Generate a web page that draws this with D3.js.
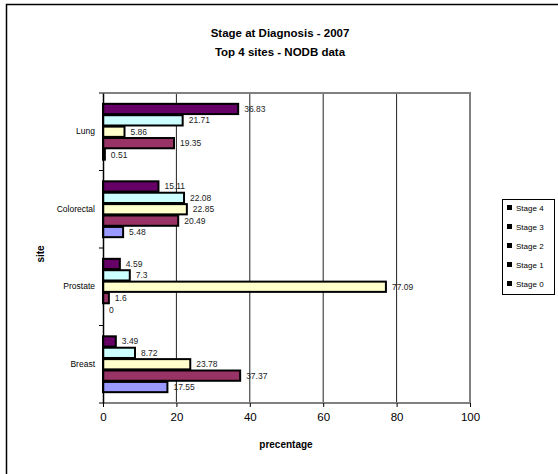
<!DOCTYPE html>
<html><head><meta charset="utf-8">
<script src="https://cdn.jsdelivr.net/npm/d3@7"></script>
<style>body{margin:0;background:#fff}svg{display:block;font-family:"Liberation Sans",Arial,sans-serif}</style>
</head><body><svg id="c" width="558" height="474"></svg>
<script>
const sites = ["Lung","Colorectal","Prostate","Breast"];
const stages = ["Stage 4","Stage 3","Stage 2","Stage 1","Stage 0"];
const stageColors = ["#660066","#CCFFFF","#FFFFCC","#993366","#9999FF"];
const stage4 = [36.83, 15.11, 4.59, 3.49];
const stage3 = [21.71, 22.08, 7.3, 8.72];
const stage2 = [5.86, 22.85, 77.09, 23.78];
const stage1 = [19.35, 20.49, 1.6, 37.37];
const stage0 = [0.51, 5.48, 0, 17.55];
const xTicks = [0,20,40,60,80,100];

const series = [stage4, stage3, stage2, stage1, stage0];
const svg = d3.select("#c");
const L = 103, R = 470, T = 93, B = 403;

svg.append("rect").attr("x",6.5).attr("y",4.5).attr("width",600).attr("height",600)
  .attr("fill","none").attr("stroke","#000").attr("stroke-width",1.5);

svg.append("text").attr("x",280).attr("y",37).attr("text-anchor","middle")
  .attr("font-weight","bold").attr("font-size",11.5).text("Stage at Diagnosis - 2007");
svg.append("text").attr("x",280).attr("y",56).attr("text-anchor","middle")
  .attr("font-weight","bold").attr("font-size",11.5).text("Top 4 sites - NODB data");

const x = d3.scaleLinear().domain([0,100]).range([L,R]);
const y = d3.scaleBand().domain(sites).range([T,B]).paddingInner(0.25).paddingOuter(0.125);
const yi = d3.scaleBand().domain(stages).range([0,y.bandwidth()]).padding(0.1);

// gridlines
svg.append("g").selectAll("line").data(xTicks.filter(d=>d>0&&d<100)).join("line")
  .attr("x1",d=>x(d)).attr("x2",d=>x(d)).attr("y1",T).attr("y2",B)
  .attr("stroke","#222").attr("stroke-width",1);
// frame
svg.append("path").attr("d",`M${L},${T}H${R}V${B}H${L}`).attr("fill","none")
  .attr("stroke","#808080").attr("stroke-width",2);

// bars
const rows = [];
sites.forEach((s,i)=>stages.forEach((st,j)=>rows.push({s,st,v:series[j][i],c:stageColors[j]})));
svg.append("g").selectAll("rect").data(rows).join("rect")
  .attr("x",x(0)).attr("y",d=>y(d.s)+yi(d.st))
  .attr("width",d=>x(d.v)-x(0)).attr("height",yi.bandwidth())
  .attr("fill",d=>d.c).attr("stroke","#000").attr("stroke-width",2);
svg.append("g").selectAll("text").data(rows).join("text")
  .attr("x",d=>x(d.v)+6).attr("y",d=>y(d.s)+yi(d.st)+yi.bandwidth()/2)
  .attr("dy","0.35em").attr("font-size",8.5).attr("fill","#222").text(d=>d.v);

// x axis
const xa = svg.append("g").attr("transform",`translate(0,${B})`)
  .call(d3.axisBottom(x).tickValues(xTicks).tickSize(4).tickPadding(6));
xa.select(".domain").remove();
xa.selectAll("line").attr("stroke","#000");
xa.selectAll("text").attr("font-size",11.5).attr("font-family","Liberation Sans, Arial, sans-serif").attr("fill","#000");

// y axis
const ya = svg.append("g").attr("transform",`translate(${L},0)`)
  .call(d3.axisLeft(y).tickSize(0).tickPadding(8));
ya.select(".domain").attr("stroke","#000").attr("stroke-width",1.5);
ya.selectAll("text").attr("font-size",8.5).attr("font-family","Liberation Sans, Arial, sans-serif").attr("fill","#000");
svg.append("g").selectAll("line").data(d3.range(sites.length+1)).join("line")
  .attr("x1",L-4).attr("x2",L).attr("y1",d=>T+d*(B-T)/sites.length).attr("y2",d=>T+d*(B-T)/sites.length)
  .attr("stroke","#000");

// axis titles
svg.append("text").attr("x",286).attr("y",448).attr("text-anchor","middle")
  .attr("font-weight","bold").attr("font-size",10).text("precentage");
svg.append("text").attr("transform","translate(44,254) rotate(-90)").attr("text-anchor","middle")
  .attr("font-weight","bold").attr("font-size",10).text("site");

// legend
const lg = svg.append("g");
lg.append("rect").attr("x",502.5).attr("y",199.5).attr("width",52).attr("height",95)
  .attr("fill","#fff").attr("stroke","#000").attr("stroke-width",1);
stages.forEach((st,i)=>{
  const yy = 209 + i*19;
  lg.append("rect").attr("x",507).attr("y",yy-4).attr("width",5).attr("height",5).attr("fill","#000");
  lg.append("text").attr("x",516).attr("y",yy).attr("dy","0.3em").attr("font-size",8).text(st);
});
</script></body></html>
